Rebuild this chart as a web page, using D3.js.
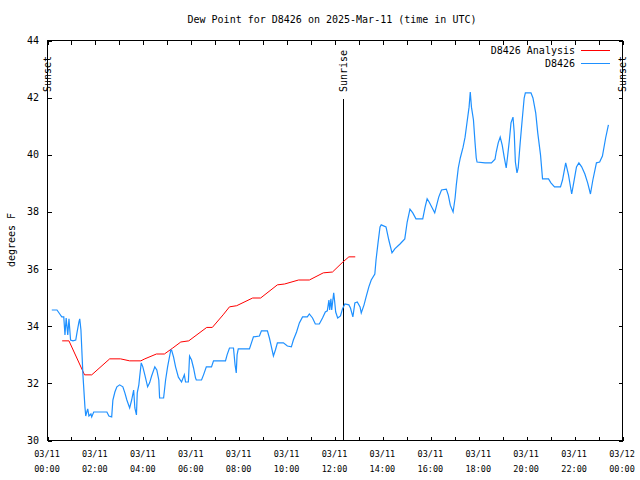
<!DOCTYPE html>
<html>
<head>
<meta charset="utf-8">
<script src="https://cdn.jsdelivr.net/npm/d3@7"></script>
<style>
  html, body { margin: 0; padding: 0; background: #fff; }
  svg { display: block; }
  text { font-family: "DejaVu Sans Mono", "Liberation Mono", monospace; fill: #000; }
</style>
</head>
<body>
<svg id="chart" width="640" height="480"></svg>
<script>
const title = "Dew Point for D8426 on 2025-Mar-11 (time in UTC)";
const yLabel = "degrees F";
const seriesNames = ["D8426 Analysis", "D8426"];
const yTicks = [30, 32, 34, 36, 38, 40, 42, 44];
const xTickDates = ["03/11","03/11","03/11","03/11","03/11","03/11","03/11","03/11","03/11","03/11","03/11","03/11","03/12"];
const xTickTimes = ["00:00","02:00","04:00","06:00","08:00","10:00","12:00","14:00","16:00","18:00","20:00","22:00","00:00"];
const sunEvents = [["Sunset","00:00"],["Sunrise","12:21"],["Sunset","24:00"]];

const analysisTimes = ["00:38","00:55","01:34","01:52","02:37","03:04","03:27","03:55","04:05","04:34","04:54","05:15","05:35","05:55","06:40","06:54","07:21","07:37","07:55","08:35","08:55","09:37","09:55","10:30","10:57","11:32","11:55","12:21","12:36","12:52"];
const analysisValues = [33.47,33.47,32.28,32.28,32.84,32.84,32.77,32.77,32.84,33.01,33.01,33.22,33.43,33.47,33.94,33.94,34.38,34.66,34.70,34.97,34.97,35.43,35.46,35.60,35.60,35.85,35.88,36.23,36.41,36.41];

const obsTimes = ["00:12","00:25","00:32","00:37","00:42","00:45","00:48","00:52","00:55","00:59","01:05","01:12","01:15","01:20","01:22","01:25","01:30","01:35","01:37","01:40","01:42","01:45","01:50","01:52","01:57","02:30","02:35","02:42","02:45","02:50","02:55","03:02","03:10","03:15","03:20","03:27","03:32","03:37","03:40","03:44","03:46","03:50","03:52","03:56","04:00","04:05","04:12","04:17","04:22","04:30","04:35","04:40","04:42","04:52","04:57","05:02","05:10","05:12","05:17","05:22","05:29","05:37","05:44","05:47","05:54","05:57","06:02","06:07","06:12","06:14","06:27","06:32","06:39","06:52","06:57","07:27","07:31","07:37","07:47","07:51","07:54","07:56","07:59","08:27","08:32","08:37","08:52","08:57","09:12","09:17","09:22","09:27","09:32","09:37","09:52","10:02","10:12","10:17","10:25","10:32","10:40","10:52","10:57","11:05","11:12","11:22","11:30","11:37","11:42","11:46","11:48","11:51","11:53","11:58","12:00","12:03","12:08","12:15","12:20","12:26","12:36","12:40","12:46","12:51","12:57","13:04","13:07","13:14","13:19","13:26","13:32","13:41","13:44","13:49","13:54","13:57","14:09","14:16","14:24","14:31","14:44","14:56","15:02","15:09","15:16","15:24","15:41","15:47","15:52","15:57","16:11","16:21","16:28","16:40","16:45","16:50","16:57","17:02","17:05","17:10","17:15","17:22","17:27","17:32","17:37","17:40","17:43","17:48","17:52","17:55","17:57","18:17","18:33","18:42","18:45","18:50","18:55","19:00","19:05","19:10","19:13","19:18","19:22","19:27","19:30","19:33","19:37","19:40","19:45","19:50","19:55","19:58","20:12","20:17","20:24","20:29","20:36","20:41","20:56","21:02","21:11","21:26","21:31","21:39","21:46","21:54","21:59","22:06","22:12","22:19","22:27","22:34","22:41","22:47","22:56","23:04","23:11","23:19","23:26"];
const obsValues = [34.55,34.55,34.41,34.31,34.31,33.68,34.27,33.68,34.24,33.50,33.47,33.50,33.75,34.13,34.24,33.85,32.28,31.16,30.84,31.00,31.09,30.84,30.91,30.81,30.98,30.98,30.84,30.81,31.40,31.68,31.86,31.93,31.86,31.65,31.40,31.12,31.40,31.75,31.12,30.88,31.65,31.93,32.20,32.70,32.56,32.28,31.86,32.00,32.24,32.56,32.45,32.10,31.47,31.47,32.10,32.56,33.15,33.15,32.90,32.56,32.20,32.03,32.28,32.03,32.03,32.94,32.80,32.52,32.17,32.10,32.10,32.28,32.56,32.56,32.77,32.77,32.98,33.22,33.22,32.63,32.35,32.98,33.19,33.19,33.40,33.61,33.64,33.82,33.82,33.57,33.26,32.94,33.15,33.40,33.40,33.29,33.26,33.50,33.78,34.10,34.31,34.31,34.41,34.27,34.06,34.06,34.27,34.48,34.52,34.90,34.55,34.94,34.55,35.15,34.90,34.48,34.27,34.34,34.59,34.76,34.73,34.62,34.31,34.80,34.83,34.66,34.45,34.73,35.00,35.36,35.60,35.81,36.30,36.90,37.46,37.53,37.46,37.00,36.55,36.69,36.86,37.04,37.63,38.08,37.95,37.74,37.74,38.16,38.44,38.33,37.95,38.50,38.75,38.78,38.57,38.22,37.98,38.47,38.92,39.52,39.87,40.25,40.60,41.13,41.65,42.18,41.65,41.20,40.40,39.87,39.73,39.70,39.70,39.83,40.08,40.40,40.60,40.32,39.90,39.52,39.87,40.50,41.10,41.30,40.78,39.73,39.35,39.52,40.40,41.20,41.97,42.15,42.15,41.97,41.44,40.75,39.97,39.14,39.14,39.00,38.86,38.86,39.10,39.70,39.28,38.61,39.00,39.56,39.70,39.56,39.31,39.00,38.61,39.10,39.70,39.73,39.94,40.57,41.03];

const colors = { analysis: "#ff0000", obs: "#1e90ff" };

function toDate(hm) {
  const [h, m] = hm.split(":").map(Number);
  return new Date(Date.UTC(2025, 2, 11, h, m));
}

const svg = d3.select("#chart");
const L = 47, R = 622, T = 40, B = 440;

const x = d3.scaleUtc()
  .domain([new Date(Date.UTC(2025, 2, 11, 0, 0)), new Date(Date.UTC(2025, 2, 12, 0, 0))])
  .range([L, R]);
const y = d3.scaleLinear().domain([30, 44]).range([B, T]);

// frame
svg.append("rect").attr("x", L + 0.5).attr("y", T + 0.5)
  .attr("width", R - L).attr("height", B - T)
  .attr("fill", "none").attr("stroke", "#000").attr("stroke-width", 1)
  .attr("shape-rendering", "crispEdges");

const hourTicks = d3.range(0, 25).map(h => new Date(Date.UTC(2025, 2, 11, h, 0)));

const axBottom = svg.append("g").attr("transform", `translate(0.5,${B + 0.5})`)
  .call(d3.axisBottom(x).tickValues(hourTicks).tickSize(-4).tickFormat(""));
const axTop = svg.append("g").attr("transform", `translate(0.5,${T + 0.5})`)
  .call(d3.axisTop(x).tickValues(hourTicks).tickSize(-4).tickFormat(""));
const axLeft = svg.append("g").attr("transform", `translate(${L + 0.5},0.5)`)
  .call(d3.axisLeft(y).tickValues(yTicks).tickSize(-4).tickFormat(""));
const axRight = svg.append("g").attr("transform", `translate(${R + 0.5},0.5)`)
  .call(d3.axisRight(y).tickValues(yTicks).tickSize(-4).tickFormat(""));
[axBottom, axTop, axLeft, axRight].forEach(g => {
  g.select(".domain").remove();
  g.selectAll("line").attr("stroke", "#000").attr("shape-rendering", "crispEdges");
});

// y tick labels
svg.append("g").selectAll("text").data(yTicks).join("text")
  .attr("x", L - 8).attr("y", d => y(d) + 4)
  .attr("text-anchor", "end").attr("font-size", "10px")
  .text(d => d);

// x tick labels
const labelTicks = d3.range(0, 25, 2).map(h => new Date(Date.UTC(2025, 2, 11, h, 0)));
const xl = svg.append("g").selectAll("text").data(labelTicks).join("text")
  .attr("text-anchor", "middle").attr("font-size", "8.5px")
  .attr("transform", d => `translate(${x(d)},0)`);
xl.append("tspan").attr("x", 0).attr("y", 457).text((d, i) => xTickDates[i]);
xl.append("tspan").attr("x", 0).attr("y", 472).text((d, i) => xTickTimes[i]);

// title
svg.append("text").attr("x", 332).attr("y", 23).attr("text-anchor", "middle")
  .attr("font-size", "10px").text(title);

// y label
svg.append("text").attr("transform", "translate(15,240) rotate(-90)")
  .attr("text-anchor", "middle").attr("font-size", "10px").text(yLabel);

// sun events
sunEvents.forEach(([name, t]) => {
  const xx = Math.round(x(toDate(t)));
  if (name === "Sunrise") {
    svg.append("line").attr("x1", xx + 0.5).attr("x2", xx + 0.5)
      .attr("y1", 99).attr("y2", B).attr("stroke", "#000")
      .attr("shape-rendering", "crispEdges");
  }
  svg.append("text").attr("transform", `translate(${xx + 4},92) rotate(-90)`)
    .attr("text-anchor", "start").attr("font-size", "10px").text(name);
});

const line = d3.line().x(d => x(d[0])).y(d => y(d[1]));

const analysis = analysisTimes.map((t, i) => [toDate(t), analysisValues[i]]);
const obs = obsTimes.map((t, i) => [toDate(t), obsValues[i]]);

svg.append("path").datum(analysis).attr("d", line)
  .attr("fill", "none").attr("stroke", colors.analysis).attr("stroke-width", 1);
svg.append("path").datum(obs).attr("d", line)
  .attr("fill", "none").attr("stroke", colors.obs).attr("stroke-width", 1.2);

// legend
const legend = svg.append("g");
[[seriesNames[0], colors.analysis, 50], [seriesNames[1], colors.obs, 63]].forEach(([name, c, yy]) => {
  legend.append("text").attr("x", 575).attr("y", yy + 4).attr("text-anchor", "end")
    .attr("font-size", "10px").text(name);
  legend.append("line").attr("x1", 581).attr("x2", 610).attr("y1", yy + 0.5).attr("y2", yy + 0.5)
    .attr("stroke", c).attr("shape-rendering", "crispEdges");
});
</script>
</body>
</html>
